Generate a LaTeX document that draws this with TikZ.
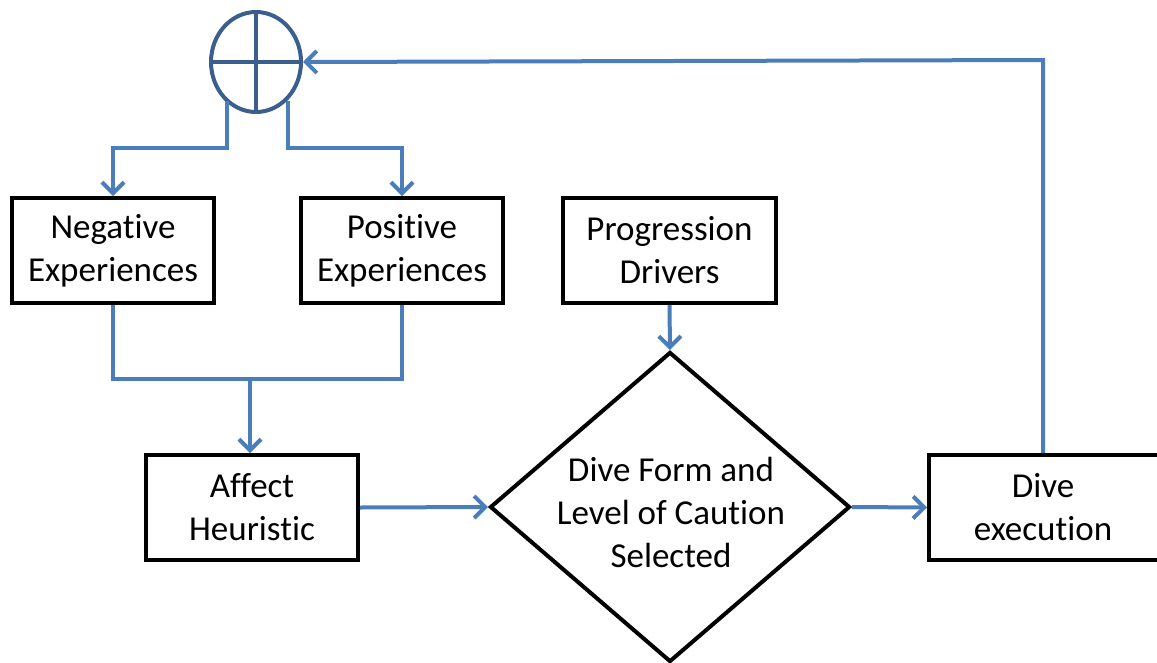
\documentclass[tikz,border=0pt]{standalone}
\usepackage{fontspec}
\setmainfont[Ligatures=NoCommon]{Carlito}
\usetikzlibrary{arrows.meta,shapes.geometric}
\definecolor{conn}{HTML}{4A7EBB}
\definecolor{sumc}{HTML}{3A5F8F}
\tikzset{
  box/.style={draw=black,line width=4pt,fill=white,inner sep=0pt,align=center,
    font=\fontsize{35}{43}\selectfont},
  conline/.style={draw=conn,line width=4pt},
  conarrow/.style={conline,-{Straight Barb[length=11pt,width=22pt,line width=4pt]}},
}
\begin{document}
\begin{tikzpicture}[x=1pt,y=-1pt]
\useasboundingbox (0,0) rectangle (1157,662);
\begin{scope}
\clip (0,0) rectangle (1157,662);
% boxes
\node[box,minimum width=202pt,minimum height=105pt] (neg) at (113,250.5) {Negative\\Experiences};
\node[box,minimum width=202pt,minimum height=105pt] (pos) at (402,250.5) {Positive\\Experiences};
\node[box,minimum width=213pt,minimum height=105pt] (prog) at (669.5,250.5) {Progression\\Drivers};
\node[box,minimum width=212pt,minimum height=105pt] (aff) at (252,507.5) {Affect\\Heuristic};
\node[box,minimum width=236pt,minimum height=105pt,anchor=west] (exe) at (927,507.5) {};
\node[font=\fontsize{35}{43}\selectfont,align=center] (exetext) at (1043,507.5) {Dive\\execution};
\node[box,diamond,minimum width=360pt,minimum height=310pt,aspect=1.16] (dive) at (670,507) {};
\node[font=\fontsize{35}{43}\selectfont,align=center] (divetext) at (671,512) {Dive Form and\\Level of Caution\\Selected};
% summing junction
\node[draw=sumc,line width=4pt,ellipse,minimum width=90pt,minimum height=100pt,inner sep=0pt] (sum) at (256,62) {};
\draw[sumc,line width=4pt] (sum.north) -- (sum.south) (sum.west) -- (sum.east);
% connectors
\coordinate (s1) at (227,101);
\coordinate (s2) at (288,101);
\draw[conarrow] (s1) -- (227,148) -| (neg.north);
\draw[conarrow] (s2) -- (288,148) -| (pos.north);
\coordinate (mj) at (250,379);
\draw[conline] (neg.south) |- (mj) -| (pos.south);
\draw[conarrow] (mj) -- (mj |- aff.north);
\draw[conarrow] (aff.east) -- (dive.west);
\draw[conarrow] (prog.south) -- (dive.north);
\draw[conarrow] (dive.east) -- (exe.west);
\draw[conarrow] (exetext.center |- exe.north) -- (1043,60) -- (sum.east);
\end{scope}
\end{tikzpicture}
\end{document}
